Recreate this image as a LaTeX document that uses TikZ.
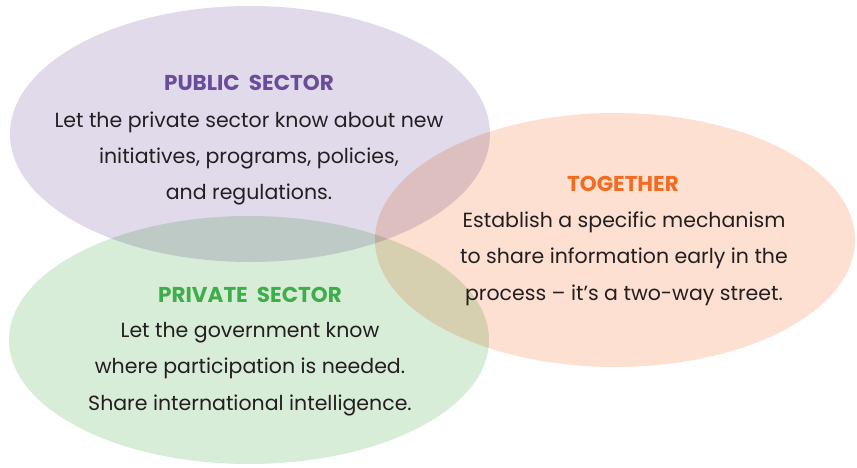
\documentclass[tikz,border=0pt]{standalone}
\usepackage{fontspec}
\setmainfont{Poppins}
\usepackage{xcolor}
\usetikzlibrary{shapes.geometric,positioning}

\definecolor{pubfill}{HTML}{E0DAEB}
\definecolor{privfill}{HTML}{D8EDD7}
\definecolor{togfill}{HTML}{FDE0D1}
\definecolor{pubhead}{HTML}{6A4C9C}
\definecolor{privhead}{HTML}{3DAE49}
\definecolor{toghead}{HTML}{F26B21}
\definecolor{bodytext}{HTML}{231F20}

\begin{document}
\begin{tikzpicture}[x=1pt, y=-1pt,
  sector/.style={ellipse, draw=none, minimum width=480pt, inner sep=0pt},
  body/.style={align=center, anchor=base, inner sep=0pt, text=bodytext, font=\fontsize{20.5}{36.3}\selectfont},
  head/.style={anchor=base, inner sep=0pt, font=\fontsize{21.5}{22}\selectfont\bfseries}
]
\useasboundingbox (0,0) rectangle (857,468);

\begin{scope}[blend mode=multiply]
\node[sector, fill=pubfill, minimum height=256pt] (public) at (250,134) {};
\node[sector, fill=privfill, minimum height=248pt] (private) at (249,340) {};
\node[sector, fill=togfill, minimum height=254pt] (together) at (615,240) {};
\end{scope}

% Public sector (body node sits on its last baseline)
\node[head, text=pubhead] (pubtitle) at (249,91) {PUBLIC\ \ SECTOR};
\node[body] (pubtext) at (249,200) {Let the private sector know about new\\
  initiatives, programs, policies,\\ and regulations.};

% Together
\node[head, text=toghead] (togtitle) at (623,192) {TOGETHER};
\node[body] (togtext) at (624,300) {Establish a specific mechanism\\
  to share information early in the\\ process -- it’s a two-way street.};

% Private sector
\node[head, text=privhead] (privtitle) at (250,302) {PRIVATE\ \ SECTOR};
\node[body] (privtext) at (250,410) {Let the government know\\
  where participation is needed.\\ Share international intelligence.};

\end{tikzpicture}
\end{document}
